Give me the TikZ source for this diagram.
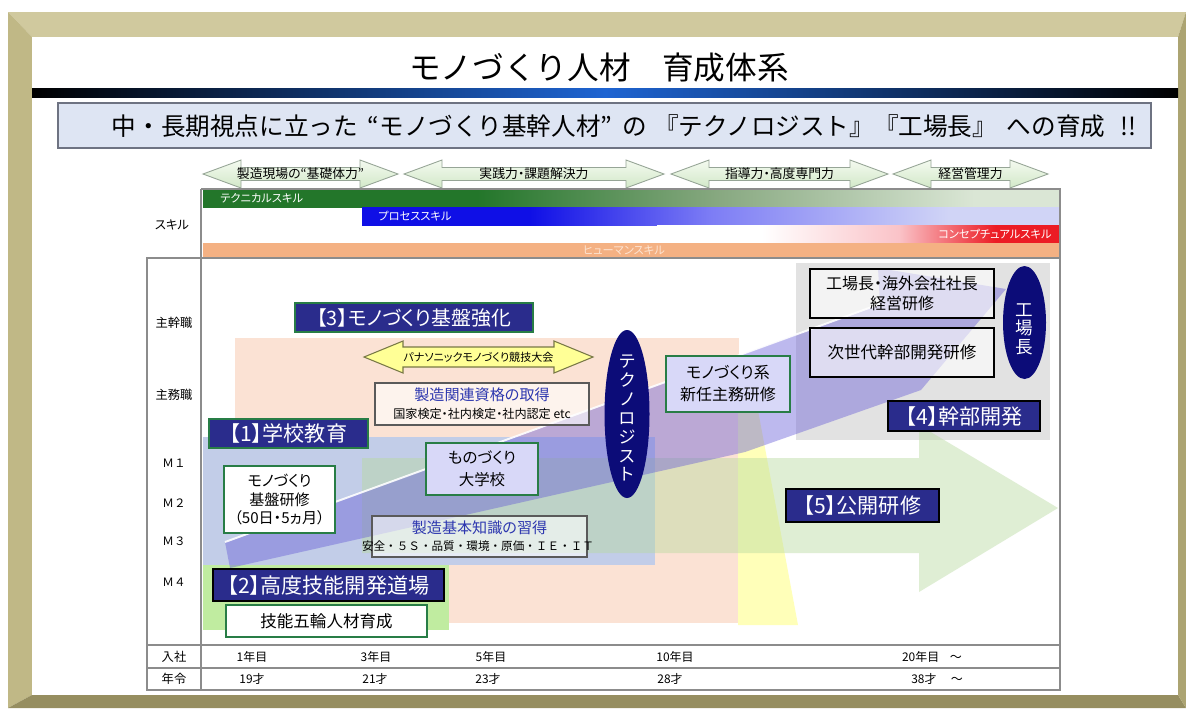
\documentclass[tikz,border=0pt]{standalone}
\usepackage{fontspec}
\setmainfont{Noto Sans CJK JP}
\newfontfamily\jpp{Noto Sans CJK JP}[RawFeature=+palt]
\usetikzlibrary{shapes.geometric}

\definecolor{goldT}{RGB}{208,201,158}
\definecolor{goldL}{RGB}{192,184,134}
\definecolor{goldB}{RGB}{150,142,96}
\definecolor{goldR}{RGB}{172,164,114}
\definecolor{barblue}{RGB}{30,100,210}
\definecolor{subfill}{RGB}{222,229,243}
\definecolor{subline}{RGB}{110,115,130}
\definecolor{phfillT}{RGB}{244,250,240}
\definecolor{phfillB}{RGB}{210,232,200}
\definecolor{phline}{RGB}{150,165,150}
\definecolor{gA}{RGB}{35,118,42}
\definecolor{gB}{RGB}{135,168,128}
\definecolor{gC}{RGB}{218,230,213}
\definecolor{bA}{RGB}{15,15,230}
\definecolor{bB}{RGB}{125,125,245}
\definecolor{bC}{RGB}{208,212,246}
\definecolor{rA}{RGB}{255,255,255}
\definecolor{rB}{RGB}{250,195,200}
\definecolor{rC}{RGB}{236,28,36}
\definecolor{human}{RGB}{244,177,131}
\definecolor{humantxt}{RGB}{253,228,210}
\definecolor{axisline}{RGB}{140,140,140}
\definecolor{peach}{RGB}{251,226,212}
\definecolor{paleyellow}{RGB}{255,255,185}
\definecolor{schoolblue}{RGB}{194,205,232}
\definecolor{dojogreen}{RGB}{192,236,160}
\definecolor{execgray}{RGB}{226,226,226}
\definecolor{openarrow}{RGB}{185,218,160}
\definecolor{purplearrow}{RGB}{100,90,215}
\definecolor{navy}{RGB}{42,44,140}
\definecolor{ellnavy}{RGB}{12,12,120}
\definecolor{boxgreen}{RGB}{40,125,70}
\definecolor{boxgray}{RGB}{90,90,90}
\definecolor{lavender}{RGB}{216,216,248}
\definecolor{titleblue}{RGB}{45,55,175}
\definecolor{ylw}{RGB}{255,255,150}
\definecolor{ylwline}{RGB}{120,120,70}

\pgfdeclarehorizontalshading{techsh}{100bp}{color(0bp)=(gA); color(25bp)=(gA); color(41bp)=(gA); color(55bp)=(gB); color(70bp)=(gC); color(75bp)=(gC); color(100bp)=(gC)}
\pgfdeclarehorizontalshading{procsh}{100bp}{color(0bp)=(bA); color(25bp)=(bA); color(37bp)=(bA); color(50bp)=(bB); color(67bp)=(bC); color(75bp)=(bC); color(100bp)=(bC)}
\pgfdeclarehorizontalshading{concsh}{100bp}{color(0bp)=(rA); color(25bp)=(rA); color(38bp)=(rA); color(55bp)=(rB); color(67bp)=(rC); color(75bp)=(rC); color(100bp)=(rC)}

\newcommand{\phasearrow}[4]{%
  \path[phase] (#2,174) -- (#2+38,160) -- (#2+38,167.5) -- (#3-38,167.5) -- (#3-38,160) -- (#3,174) -- (#3-38,188) -- (#3-38,180.5) -- (#2+38,180.5) -- (#2+38,188) -- cycle;
  \node[phtxt] (#1) at ({(#2+#3)/2},174) {#4};}

\begin{document}
\begin{tikzpicture}[x=0.02cm,y=-0.02cm,
  wh/.style args={#1/#2}{minimum width=#1*0.02cm,minimum height=#2*0.02cm},
  lbl/.style={draw=boxgreen,line width=1.1pt,fill=navy,text=white,inner sep=0pt,font=\jpp\fontsize{12}{14}\selectfont},
  lblk/.style={lbl,draw=black},
  wbox/.style={draw=boxgreen,line width=0.9pt,fill=white,inner sep=0pt,align=center,font=\jpp\fontsize{9.2}{12}\selectfont},
  lbox/.style={wbox,fill=lavender},
  gbox/.style={wbox,draw=boxgray},
  kbox/.style={wbox,draw=black},
  trans/.style={fill opacity=0.6,text opacity=1},
  bluet/.style={inner sep=0pt,text=titleblue,font=\jpp\fontsize{8.6}{10}\selectfont},
  subt/.style={inner sep=0pt,font=\jpp\fontsize{6.9}{8}\selectfont},
  ell/.style={ellipse,fill=ellnavy,inner sep=0pt},
  vtxt/.style={text=white,align=center,inner sep=0pt,font=\jpp\fontsize{9.7}{10.8}\selectfont},
  phase/.style={draw=phline,line width=0.5pt,top color=phfillT,bottom color=phfillB},
  phtxt/.style={inner sep=0pt,font=\jpp\fontsize{7.3}{8}\selectfont},
  sktxt/.style={inner sep=0pt,text=white,font=\jpp\fontsize{6.4}{7}\selectfont},
  axtxt/.style={inner sep=0pt,font=\jpp\fontsize{7}{8}\selectfont},
  yrtxt/.style={inner sep=0pt,font=\jpp\fontsize{6.8}{8}\selectfont},
  axline/.style={draw=axisline,line width=0.7pt}
]
\useasboundingbox (0,0) rectangle (1186,708);
% frame
\fill[white] (0,0) rectangle (1186,708);
\fill[goldT] (8,12) -- (1186,12) -- (1178,37) -- (32,37) -- cycle;
\fill[goldL] (8,12) -- (32,37) -- (32,695) -- (8,708) -- cycle;
\fill[goldB] (8,708) -- (32,695) -- (1178,695) -- (1186,708) -- cycle;
\fill[goldR] (1186,12) -- (1178,37) -- (1178,695) -- (1186,708) -- cycle;
\fill[white] (32,37) rectangle (1178,695);

% title
\node[inner sep=0pt,font=\fontsize{18}{20}\selectfont] (title) at (599,68) {モノづくり人材　育成体系};
\shade[left color=black,right color=black,middle color=barblue] (32,88) rectangle (1178,97);
\node[draw=subline,line width=0.8pt,fill=subfill,wh=1093/45,inner sep=0pt] (subbox) at (604.5,125.5) {};
\node[inner sep=0pt,font=\fontsize{14}{16}\selectfont] (subtitle) at (624,126) {中・長期視点に立った\hspace{.4em}“モノづくり基幹人材”\hspace{.4em}の\hspace{.3em}『テクノロジスト』『工場長』\hspace{.4em}への育成\hspace{.6em}!!};

% phase arrows
\phasearrow{ph1}{203}{398}{製造現場の“基礎体力”}
\phasearrow{ph2}{404}{664}{実践力・課題解決力}
\phasearrow{ph3}{671}{888}{指導力・高度専門力}
\phasearrow{ph4}{893}{1048}{経営管理力}

% skill bars
\shade[shading=techsh] (203,190) rectangle (1060,207.5);
\shade[shading=procsh] (362,207.5) rectangle (1060,225);
\shade[shading=concsh] (657,225) rectangle (1060,242.5);
\fill[human] (203,242.5) rectangle (1060,258);
\node[sktxt,anchor=west] (tech) at (220,198.5) {テクニカルスキル};
\node[sktxt,anchor=west] (proc) at (378,216) {プロセススキル};
\node[sktxt,anchor=east] (conc) at (1052,234) {コンセプチュアルスキル};
\node[sktxt,text=humantxt] (hum) at (624,250.5) {ヒューマンスキル};

% background areas
\fill[execgray] (796,263) rectangle (1050,440);
\fill[peach] (235,338) rectangle (739,623);
\fill[paleyellow] (738,405) -- (757,405) -- (798,625) -- (738,625) -- cycle;
\fill[dojogreen] (203,565) rectangle (449,630);
\fill[schoolblue] (203,437) rectangle (655,565);
\fill[openarrow,fill opacity=0.45] (362,458) -- (919,458) -- (919,425) -- (1058,508) -- (919,592) -- (919,553) -- (362,553) -- cycle;

% big diagonal arrow
\fill[purplearrow,fill opacity=0.42] (225,542) -- (880,304) -- (878,268) -- (1006,289) -- (921,390) -- (745,452) -- (230,568) -- cycle;
\draw[white,line width=1.1pt,opacity=0.9] (225,542) -- (880,304);

% text boxes
\node[wbox,wh=111/67,font=\jpp\fontsize{8.6}{10.8}\selectfont] (kiban) at (279.5,499.5) {モノづくり\\基盤研修\\（50日・5ヵ月）};
\node[lbox,wh=112/52,font=\jpp\fontsize{8.8}{12.5}\selectfont] (daigaku) at (482,469) {ものづくり\\大学校};
\node[gbox,trans,wh=215/41] (kihon) at (479.5,536.5) {};
\node[bluet] (kihon-t) at (479.5,528) {製造基本知識の習得};
\node[subt,font=\fontsize{6.6}{8}\selectfont] (kihon-s) at (478,546) {安全・５Ｓ・品質・環境・原価・ＩＥ・ＩＴ};
\node[gbox,trans,wh=214/42] (shikaku) at (482,404) {};
\node[bluet] (shikaku-t) at (482,395) {製造関連資格の取得};
\node[subt] (shikaku-s) at (482,414) {国家検定・社内検定・社内認定 etc};
\node[wbox,wh=201/32,font=\jpp\fontsize{9.4}{11}\selectfont] (ginou) at (326.5,621) {技能五輪人材育成};
\node[lbox,wh=124/56,font=\jpp\fontsize{9.1}{12.5}\selectfont] (shinnin) at (728,384) {モノづくり系\\新任主務研修};
\node[kbox,trans,wh=184/49,font=\jpp\fontsize{9.1}{11.4}\selectfont] (kojo) at (902,293.5) {工場長・海外会社社長\\経営研修};
\node[kbox,trans,wh=184/49,font=\jpp\fontsize{9.4}{11}\selectfont] (jisedai) at (902,352.5) {次世代幹部開発研修};

% yellow double arrow
\path[draw=ylwline,line width=0.6pt,fill=ylw] (364,357) -- (403,341) -- (403,347) -- (554,347) -- (554,341) -- (593,357) -- (554,373) -- (554,367) -- (403,367) -- (403,373) -- cycle;
\node[inner sep=0pt,font=\jpp\fontsize{6.3}{7}\selectfont] (kyogi) at (478.5,357) {パナソニックモノづくり競技大会};

% ellipses
\node[ell,wh=45/168] (techno) at (627,414) {};
\node[vtxt] (techno-t) at (627,418) {テ\\ク\\ノ\\ロ\\ジ\\ス\\ト};
\node[ell,wh=43/113] (kojocho) at (1024.5,322.5) {};
\node[vtxt,font=\jpp\fontsize{10}{10.5}\selectfont] (kojocho-t) at (1024.5,329) {工\\場\\長};

% label boxes
\node[lbl,wh=238/29,font=\jpp\fontsize{11.3}{13}\selectfont] (L3) at (414,317.5) {【3】モノづくり基盤強化};
\node[lbl,wh=159/29] (L1) at (288.5,433.5) {【1】学校教育};
\node[lblk,wh=231/32] (L2) at (328.5,585) {【2】高度技能開発道場};
\node[lblk,wh=152/30] (L4) at (964,416) {【4】幹部開発};
\node[lblk,wh=153/33] (L5) at (862.5,505.5) {【5】公開研修};

% axis frame
\draw[axline] (201,189) -- (1060,189) -- (1060,690) -- (147,690) -- (147,258) -- (1060,258);
\draw[axline] (201,189) -- (201,690);
\draw[axline] (147,645) -- (1060,645);
\draw[axline] (147,668) -- (1060,668);

% axis labels
\node[axtxt] (skill) at (172,225) {スキル};
\node[axtxt] (shukan) at (174,323) {主幹職};
\node[axtxt] (shumu) at (174,395) {主務職};
\node[axtxt,font=\fontsize{6.6}{8}\selectfont] (m1) at (174,463) {Ｍ１};
\node[axtxt,font=\fontsize{6.6}{8}\selectfont] (m2) at (174,503) {Ｍ２};
\node[axtxt,font=\fontsize{6.6}{8}\selectfont] (m3) at (174,541) {Ｍ３};
\node[axtxt,font=\fontsize{6.6}{8}\selectfont] (m4) at (174,582) {Ｍ４};
\node[axtxt] (nyusha) at (174,657) {入社};
\node[axtxt] (nenrei) at (174,679) {年令};

\node[yrtxt] (y1) at (252,657) {1年目};
\node[yrtxt] (y3) at (376,657) {3年目};
\node[yrtxt] (y5) at (491,657) {5年目};
\node[yrtxt] (y10) at (675,657) {10年目};
\node[yrtxt] (y20) at (932,657) {20年目\hspace{0.9em}～};
\node[yrtxt] (a19) at (252,679) {19才};
\node[yrtxt] (a21) at (375,679) {21才};
\node[yrtxt] (a23) at (488,679) {23才};
\node[yrtxt] (a28) at (670,679) {28才};
\node[yrtxt] (a38) at (937,679) {38才\hspace{1.2em}～};
\end{tikzpicture}
\end{document}
